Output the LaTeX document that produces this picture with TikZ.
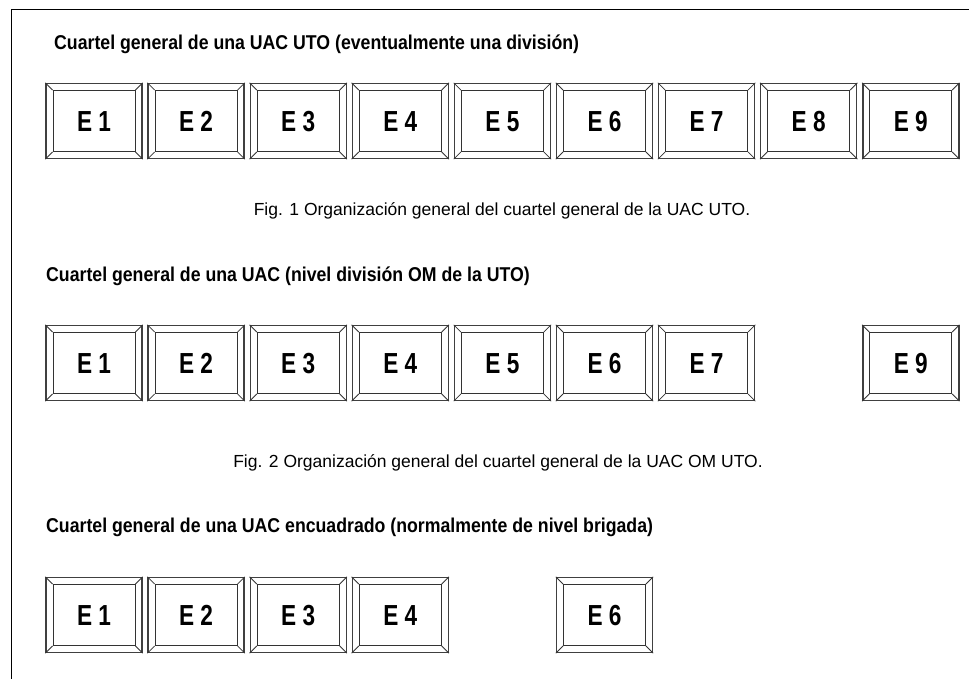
\documentclass[tikz,border=0pt]{standalone}
\usepackage{fontspec}
\setmainfont{Liberation Sans}
\newfontfamily\titlefont{Liberation Sans}[FakeStretch=0.885]
\newfontfamily\keyfont{Liberation Sans}[FakeStretch=0.78]
\begin{document}
\begin{tikzpicture}[x=1pt,y=1pt,
  keyouter/.style={draw=black!75,line width=1.4pt,minimum width=96pt,minimum height=75pt,inner sep=0pt,fill=white},
  keyinner/.style={draw=black!80,line width=0.9pt,minimum width=82pt,minimum height=61pt,inner sep=0pt,text height=21pt,text depth=0pt,font=\keyfont\fontsize{29}{32}\selectfont\bfseries},
  bevel/.style={draw=black!80,line width=0.8pt},
  title/.style={anchor=west,inner sep=0pt,font=\titlefont\fontsize{20}{24}\selectfont\bfseries},
  caption/.style={inner sep=0pt,font=\fontsize{17.5}{20}\selectfont},
  frameline/.style={draw=black,line width=1pt}]
\useasboundingbox (0,0) rectangle (969,-679);
\coordinate (fa) at (11,-679);
\coordinate (fb) at (11,-10);
\coordinate (fc) at (969,-10);
\draw[frameline] (fa) -- (fb) -- (fc);

\node[title] (t1) at (54,-44) {Cuartel general de una UAC UTO (eventualmente una división)};
\node[title] (t2) at (46,-276) {Cuartel general de una UAC (nivel división OM de la UTO)};
\node[title] (t3) at (46,-527) {Cuartel general de una UAC encuadrado (normalmente de nivel brigada)};
\node[caption] (c1) at (502,-211) {Fig. 1 Organización general del cuartel general de la UAC UTO.};
\node[caption] (c2) at (498,-463) {Fig. 2 Organización general del cuartel general de la UAC OM UTO.};

\foreach \r/\yy/\list in {a/-121/{1,2,3,4,5,6,7,8,9}, b/-363/{1,2,3,4,5,6,7,9}, c/-615/{1,2,3,4,6}}{
  \foreach \i in \list {
    \pgfmathsetmacro{\xx}{94+102.1*(\i-1)}
    \node[keyouter] (\r\i) at (\xx,\yy) {};
    \node[keyinner] (\r\i i) at (\r\i) {E \i};
    \draw[bevel] (\r\i.north west) -- (\r\i i.north west);
    \draw[bevel] (\r\i.north east) -- (\r\i i.north east);
    \draw[bevel] (\r\i.south west) -- (\r\i i.south west);
    \draw[bevel] (\r\i.south east) -- (\r\i i.south east);
  }
}
\end{tikzpicture}
\end{document}
